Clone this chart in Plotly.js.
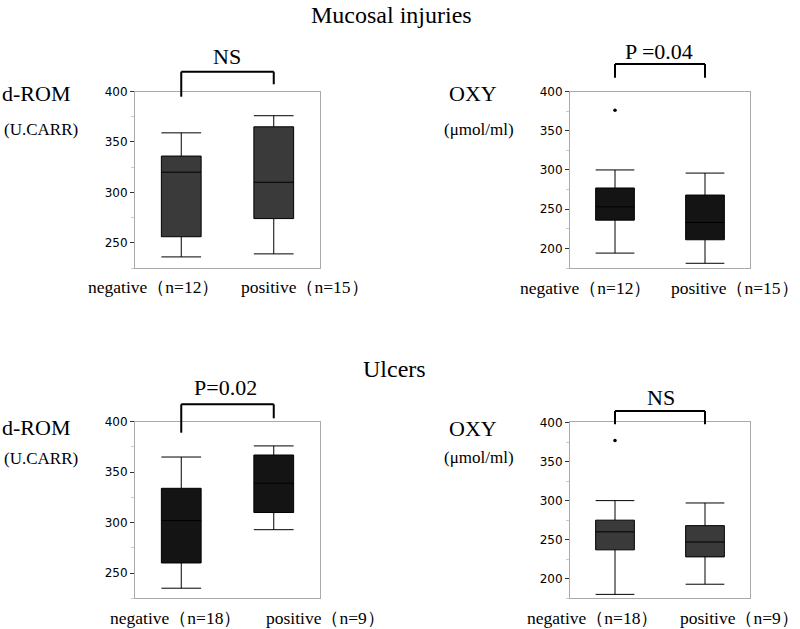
<!DOCTYPE html>
<html>
<head>
<meta charset="utf-8">
<script src="https://cdn.plot.ly/plotly-3.0.1.min.js"></script>
<style>html,body{margin:0;padding:0;background:#fff;}</style>
</head>
<body>
<div id="chart" style="width:800px;height:629px;"></div>
<script>
// ---- data ----
const groups = ["negative", "positive"];
const mucosalN = [12, 15];
const ulcerN = [18, 9];
const sectionTitles = ["Mucosal injuries", "Ulcers"];
const markerNames = ["d-ROM", "OXY"];
const markerUnits = ["(U.CARR)", "(\u03bcmol/ml)"];
const pTexts = ["NS", "P =0.04", "P=0.02", "NS"];

// Mucosal injuries, d-ROM
const mucRomLower = [236, 239];
const mucRomQ1 = [256, 274];
const mucRomMedian = [320, 310];
const mucRomQ3 = [336, 365];
const mucRomUpper = [359, 376];
// Mucosal injuries, OXY
const mucOxyLower = [194, 181];
const mucOxyQ1 = [236, 211];
const mucOxyMedian = [253, 233];
const mucOxyQ3 = [277, 268];
const mucOxyUpper = [300, 296];
const mucOxyOutlierX = ["negative"];
const mucOxyOutlierY = [376];
// Ulcers, d-ROM
const ulcRomLower = [235, 293];
const ulcRomQ1 = [260, 310];
const ulcRomMedian = [302, 339];
const ulcRomQ3 = [334, 367];
const ulcRomUpper = [365, 376];
// Ulcers, OXY
const ulcOxyLower = [180, 193];
const ulcOxyQ1 = [237, 228];
const ulcOxyMedian = [260, 247];
const ulcOxyQ3 = [275, 268];
const ulcOxyUpper = [300, 297];
const ulcOxyOutlierX = ["negative"];
const ulcOxyOutlierY = [377];

// ---- layout helpers ----
const W = 800, H = 629;
const px = v => v / W;
const py = v => 1 - v / H;

const GRAY = "#3a3a3a", BLACK = "#141414";

function boxTrace(xa, ya, lower, q1, med, q3, upper, fill) {
  return {
    type: "box", xaxis: xa, yaxis: ya, x: groups,
    lowerfence: lower, q1: q1, median: med, q3: q3, upperfence: upper,
    fillcolor: fill, line: {color: "#000", width: 1}, whiskerwidth: 1,
    width: 0.43, boxpoints: false, hoverinfo: "skip"
  };
}
function outlierTrace(xa, ya, xs, ys) {
  return {type: "scatter", mode: "markers", xaxis: xa, yaxis: ya, x: xs, y: ys,
    marker: {color: "#000", size: 3.5}, hoverinfo: "skip"};
}

const data = [
  boxTrace("x", "y", mucRomLower, mucRomQ1, mucRomMedian, mucRomQ3, mucRomUpper, GRAY),
  boxTrace("x2", "y2", mucOxyLower, mucOxyQ1, mucOxyMedian, mucOxyQ3, mucOxyUpper, BLACK),
  outlierTrace("x2", "y2", mucOxyOutlierX, mucOxyOutlierY),
  boxTrace("x3", "y3", ulcRomLower, ulcRomQ1, ulcRomMedian, ulcRomQ3, ulcRomUpper, BLACK),
  boxTrace("x4", "y4", ulcOxyLower, ulcOxyQ1, ulcOxyMedian, ulcOxyQ3, ulcOxyUpper, GRAY),
  outlierTrace("x4", "y4", ulcOxyOutlierX, ulcOxyOutlierY)
];

function xax(dom, anchor) {
  return {domain: dom, anchor: anchor, type: "category", categoryarray: groups,
    range: [-0.5, 1.5], showticklabels: false, ticks: "", showgrid: false,
    zeroline: false, showline: true, mirror: true, linecolor: "#aaaaaa", linewidth: 1,
    fixedrange: true};
}
function yax(dom, anchor, range) {
  return {domain: dom, anchor: anchor, range: range, dtick: 50, tick0: 0,
    ticks: "outside", ticklen: 4, tickcolor: "#333", tickwidth: 1,
    minor: {dtick: 25, ticks: "outside", ticklen: 3, tickcolor: "#cccccc"},
    tickfont: {family: "DejaVu Sans", size: 12, color: "#000"},
    showgrid: false, zeroline: false, showline: true, mirror: true,
    linecolor: "#aaaaaa", linewidth: 1, automargin: false, fixedrange: true};
}

const topY = [py(268), py(91.5)];
const botY = [py(598.3), py(421.7)];
const leftX = [px(135), px(320)];
const rightX = [px(570), px(750)];

const serif = "Liberation Serif, Times New Roman, serif";
const ann = [];
function text(t, x, y, size) {
  ann.push({text: t, x: px(x), y: py(y), xref: "paper", yref: "paper",
    xanchor: "center", yanchor: "middle", showarrow: false,
    font: {family: serif, size: size, color: "#000"}});
}
// section titles
text(sectionTitles[0], 391, 15, 24);
text(sectionTitles[1], 394, 369, 24);
// y labels
text(markerNames[0], 36, 94, 22); text(markerUnits[0], 41, 129, 17);
text(markerNames[1], 473, 94, 22); text(markerUnits[1], 479, 129, 17);
text(markerNames[0], 36, 427, 22); text(markerUnits[0], 41, 458, 17);
text(markerNames[1], 473, 428, 22); text(markerUnits[1], 479, 457, 17);
// group labels
const lab = (g, n) => g + "\uff08n=" + n + "\uff09";
const LS = 17.5;
text(lab(groups[0], mucosalN[0]), 153, 287, LS); text(lab(groups[1], mucosalN[1]), 305, 287, LS);
text(lab(groups[0], mucosalN[0]), 585, 288, LS); text(lab(groups[1], mucosalN[1]), 735, 288, LS);
text(lab(groups[0], ulcerN[0]), 175, 618, LS); text(lab(groups[1], ulcerN[1]), 325, 618, LS);
text(lab(groups[0], ulcerN[0]), 592, 618, LS); text(lab(groups[1], ulcerN[1]), 739, 618, LS);
// p values
text(pTexts[0], 227, 57, 22);
text(pTexts[1], 659, 51, 22);
text(pTexts[2], 226, 387, 22);
text(pTexts[3], 661, 397, 22);

// brackets
const shapes = [];
function bracket(xref, top, leftBottom, rightBottom) {
  const ln = {color: "#000", width: 2};
  shapes.push({type: "line", xref: xref, yref: "paper", x0: 0, x1: 1, y0: py(top), y1: py(top), line: ln});
  shapes.push({type: "line", xref: xref, yref: "paper", x0: 0, x1: 0, y0: py(top), y1: py(leftBottom), line: ln});
  shapes.push({type: "line", xref: xref, yref: "paper", x0: 1, x1: 1, y0: py(top), y1: py(rightBottom), line: ln});
}
bracket("x", 71.7, 96.7, 84.3);
bracket("x2", 64, 77.7, 77.7);
bracket("x3", 404.3, 432.7, 418.3);
bracket("x4", 411, 424.3, 424.3);

const layout = {
  width: W, height: H, margin: {l: 0, r: 0, t: 0, b: 0},
  paper_bgcolor: "#fff", plot_bgcolor: "#fff", showlegend: false,
  xaxis: xax(leftX, "y"), yaxis: yax(topY, "x", [225, 400]),
  xaxis2: xax(rightX, "y2"), yaxis2: yax(topY, "x2", [175, 400]),
  xaxis3: xax(leftX, "y3"), yaxis3: yax(botY, "x3", [225, 400]),
  xaxis4: xax(rightX, "y4"), yaxis4: yax(botY, "x4", [175, 401]),
  annotations: ann, shapes: shapes
};

Plotly.newPlot("chart", data, layout, {displayModeBar: false, staticPlot: true});
</script>
</body>
</html>
